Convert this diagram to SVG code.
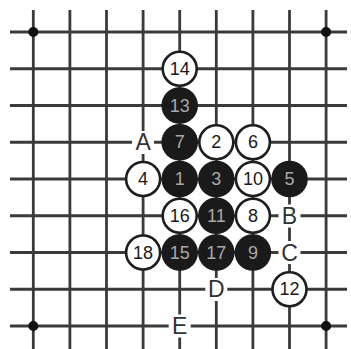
<svg xmlns="http://www.w3.org/2000/svg" width="351" height="349" viewBox="0 0 351 349">
<style>
.g line{stroke:#3a3a3a;stroke-width:2.8}
.w circle{fill:#fff;stroke:#1e1e1e;stroke-width:2.6}
.b circle{fill:#1a1a1a}
.w text,.b text{font-family:"Liberation Sans Narrow","Liberation Sans",Arial,sans-serif;font-size:18px;text-anchor:middle;dominant-baseline:central}
.w text{fill:#1a1a1a}
.b text{fill:#a8a8a8}
.l rect{fill:#fff}
.l text{font-family:"Liberation Sans",Arial,sans-serif;font-size:23px;fill:#333;text-anchor:middle;dominant-baseline:central}
.h{fill:#111}
</style>
<rect width="351" height="349" fill="#fff"/>
<g id="grid" class="g">
<line x1="10" y1="32" x2="347" y2="32"/>
<line x1="10" y1="68.75" x2="347" y2="68.75"/>
<line x1="10" y1="105.5" x2="347" y2="105.5"/>
<line x1="10" y1="142.25" x2="347" y2="142.25"/>
<line x1="10" y1="179" x2="347" y2="179"/>
<line x1="10" y1="215.75" x2="347" y2="215.75"/>
<line x1="10" y1="252.5" x2="347" y2="252.5"/>
<line x1="10" y1="289.25" x2="347" y2="289.25"/>
<line x1="10" y1="326" x2="347" y2="326"/>
<line x1="33.3" y1="10" x2="33.3" y2="349"/>
<line x1="69.9" y1="10" x2="69.9" y2="349"/>
<line x1="106.5" y1="10" x2="106.5" y2="349"/>
<line x1="143.1" y1="10" x2="143.1" y2="349"/>
<line x1="179.7" y1="10" x2="179.7" y2="349"/>
<line x1="216.3" y1="10" x2="216.3" y2="349"/>
<line x1="252.9" y1="10" x2="252.9" y2="349"/>
<line x1="289.5" y1="10" x2="289.5" y2="349"/>
<line x1="326.1" y1="10" x2="326.1" y2="349"/>
</g>
<g id="hoshi">
<circle class="h" cx="33.3" cy="32" r="5"/>
<circle class="h" cx="326.1" cy="32" r="5"/>
<circle class="h" cx="33.3" cy="326" r="5"/>
<circle class="h" cx="326.1" cy="326" r="5"/>
</g>
<g id="s14" class="w"><circle cx="179.7" cy="68.75" r="17"/><text x="179.7" y="68.75">14</text></g>
<g id="s13" class="b"><circle cx="179.7" cy="105.5" r="18.3"/><text x="179.7" y="105.5">13</text></g>
<g id="s7" class="b"><circle cx="179.7" cy="142.25" r="18.3"/><text x="179.7" y="142.25">7</text></g>
<g id="s2" class="w"><circle cx="216.3" cy="142.25" r="17"/><text x="216.3" y="142.25">2</text></g>
<g id="s6" class="w"><circle cx="252.9" cy="142.25" r="17"/><text x="252.9" y="142.25">6</text></g>
<g id="s4" class="w"><circle cx="143.1" cy="179" r="17"/><text x="143.1" y="179">4</text></g>
<g id="s1" class="b"><circle cx="179.7" cy="179" r="18.3"/><text x="179.7" y="179">1</text></g>
<g id="s3" class="b"><circle cx="216.3" cy="179" r="18.3"/><text x="216.3" y="179">3</text></g>
<g id="s10" class="w"><circle cx="252.9" cy="179" r="17"/><text x="252.9" y="179">10</text></g>
<g id="s5" class="b"><circle cx="289.5" cy="179" r="18.3"/><text x="289.5" y="179">5</text></g>
<g id="s16" class="w"><circle cx="179.7" cy="215.75" r="17"/><text x="179.7" y="215.75">16</text></g>
<g id="s11" class="b"><circle cx="216.3" cy="215.75" r="18.3"/><text x="216.3" y="215.75">11</text></g>
<g id="s8" class="w"><circle cx="252.9" cy="215.75" r="17"/><text x="252.9" y="215.75">8</text></g>
<g id="s18" class="w"><circle cx="143.1" cy="252.5" r="17"/><text x="143.1" y="252.5">18</text></g>
<g id="s15" class="b"><circle cx="179.7" cy="252.5" r="18.3"/><text x="179.7" y="252.5">15</text></g>
<g id="s17" class="b"><circle cx="216.3" cy="252.5" r="18.3"/><text x="216.3" y="252.5">17</text></g>
<g id="s9" class="b"><circle cx="252.9" cy="252.5" r="18.3"/><text x="252.9" y="252.5">9</text></g>
<g id="s12" class="w"><circle cx="289.5" cy="289.25" r="17"/><text x="289.5" y="289.25">12</text></g>
<g id="lA" class="l"><rect x="132" y="131" width="22" height="23"/><text x="143.1" y="142.25">A</text></g>
<g id="lB" class="l"><rect x="278.5" y="204.5" width="22" height="23"/><text x="289.5" y="215.75">B</text></g>
<g id="lC" class="l"><rect x="278.5" y="241" width="22" height="23"/><text x="289.5" y="252.5">C</text></g>
<g id="lD" class="l"><rect x="205.3" y="278" width="22" height="23"/><text x="216.3" y="289.25">D</text></g>
<g id="lE" class="l"><rect x="168.7" y="314.5" width="22" height="23"/><text x="179.7" y="326">E</text></g>
</svg>
